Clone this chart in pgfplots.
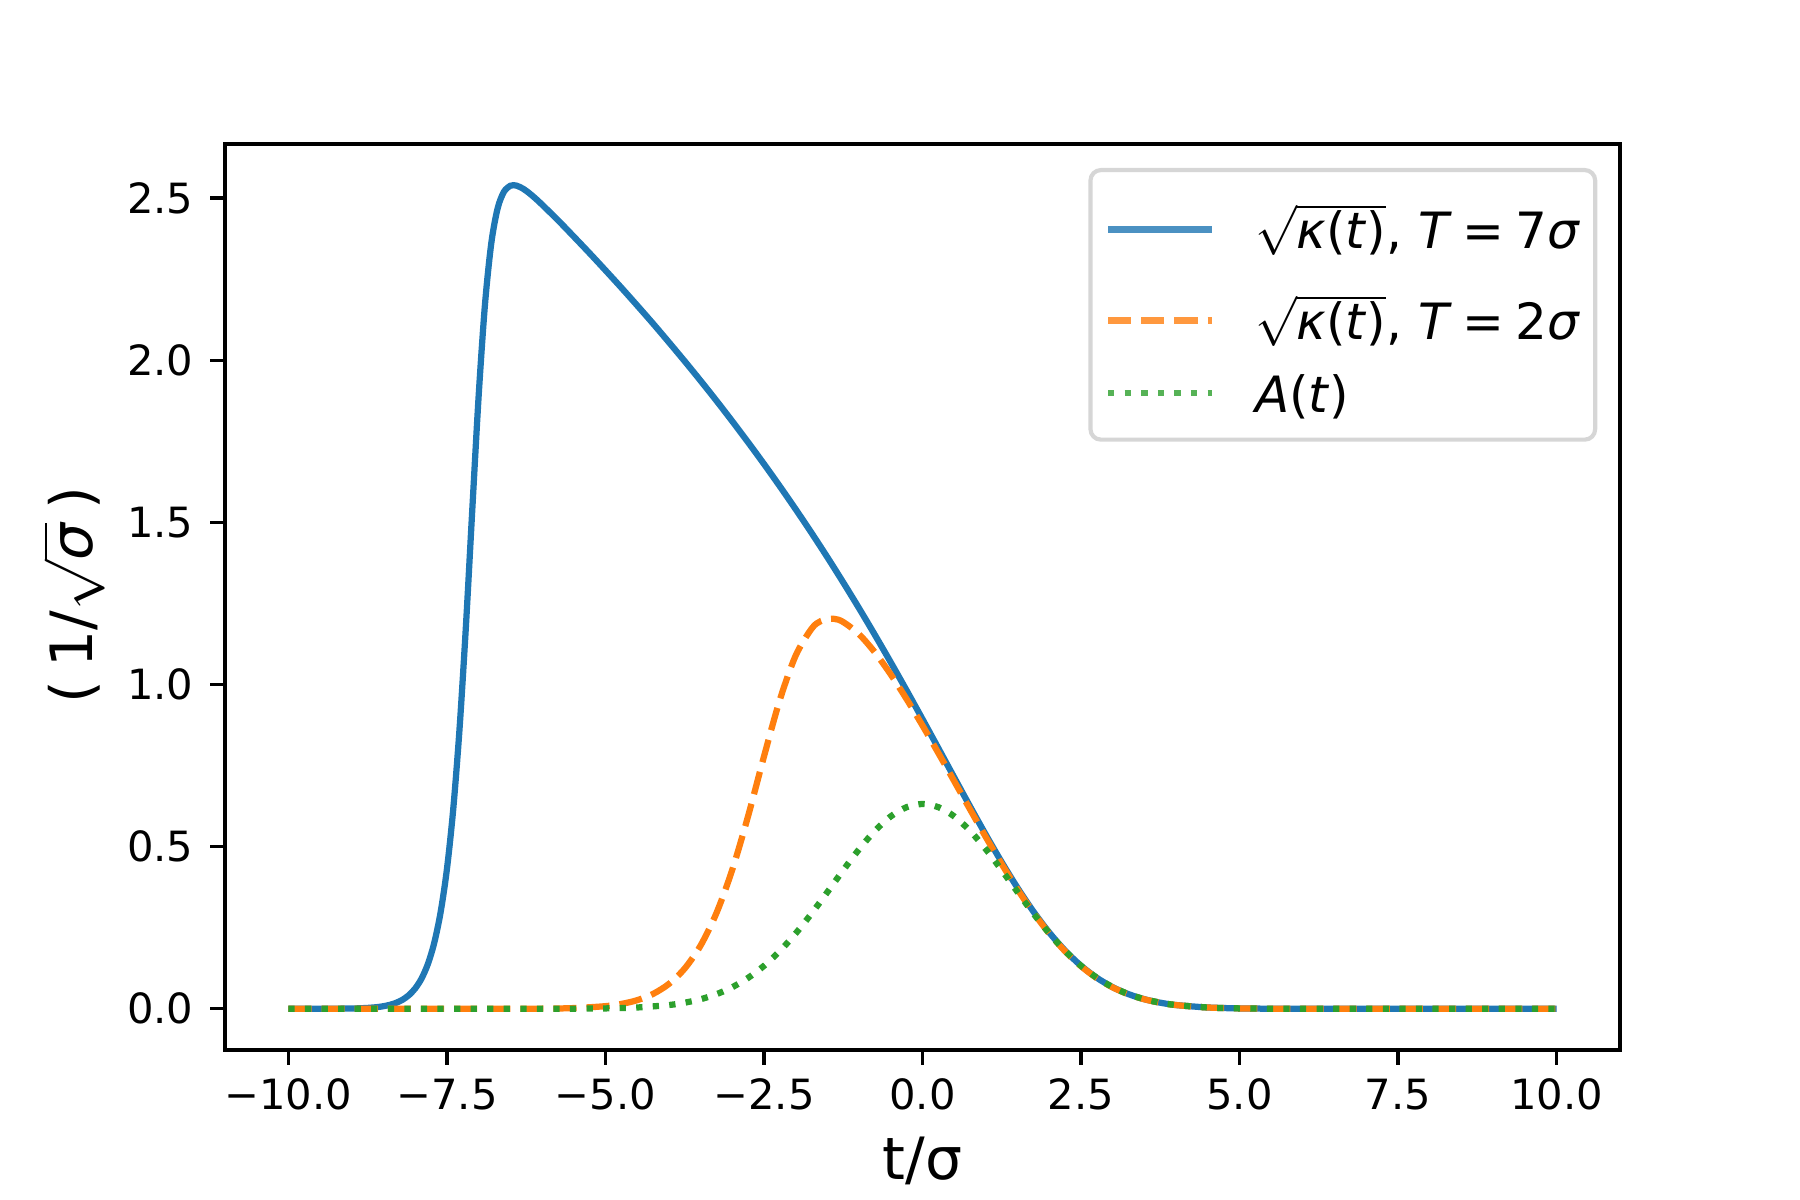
\documentclass[border=0pt]{standalone}
\usepackage{fontspec}
\setmainfont{DejaVu Sans}
\usepackage{pgfplots}
\pgfplotsset{compat=1.18}
\definecolor{tabblue}{HTML}{1F77B4}
\definecolor{taborange}{HTML}{FF7F0E}
\definecolor{tabgreen}{HTML}{2CA02C}
\pgfplotsset{
  limgA/.style={legend image code/.code={\path[draw=none,fill=none] (0pt,-6pt) rectangle (0.01pt,6pt); \draw[##1, line cap=butt] (0pt,-1.55pt) -- (25pt,-1.55pt);}},
  limgB/.style={legend image code/.code={\path[draw=none,fill=none] (0pt,-6pt) rectangle (0.01pt,6pt); \draw[##1, line cap=butt] (0pt,-4.875pt) -- (25pt,-4.875pt);}},
  limgC/.style={legend image code/.code={\path[draw=none,fill=none] (0pt,-6pt) rectangle (0.01pt,6pt); \draw[##1, line cap=butt] (0pt,-2.675pt) -- (25pt,-2.675pt);}},
}

\pgfplotstableread{
t y
-10 0
-9.5 0.0001
-9 0.0009
-8.75 0.0027
-8.6 0.0052
-8.5 0.0080
-8.4 0.0122
-8.3 0.0185
-8.2 0.0279
-8.1 0.0420
-8.0 0.0628
-7.9 0.0934
-7.8 0.1383
-7.7 0.2034
-7.6 0.2973
-7.5 0.4308
-7.4 0.6168
-7.3 0.8667
-7.2 1.1818
-7.1 1.5398
-7.0 1.8891
-6.9 2.1720
-6.8 2.3616
-6.7 2.4688
-6.6 2.5199
-6.5 2.5381
-6.45 2.5399
-6.4 2.5384
-6.3 2.5292
-6.2 2.5150
-6.1 2.4983
-6.0 2.4800
-5.75 2.4321
-5.5 2.3815
-5.25 2.3301
-5.0 2.2774
-4.75 2.2239
-4.5 2.1690
-4.25 2.1132
-4 2.0556
-3.75 1.9970
-3.5 1.9369
-3.25 1.8753
-3 1.8119
-2.75 1.7469
-2.5 1.6801
-2.25 1.6113
-2 1.5405
-1.75 1.4676
-1.5 1.3924
-1.25 1.3148
-1 1.2350
-0.75 1.1527
-0.5 1.0682
-0.25 0.9816
0 0.8932
0.25 0.8036
0.5 0.7136
0.75 0.6240
1 0.5363
1.25 0.4519
1.5 0.3726
1.75 0.2998
2 0.2351
2.25 0.1793
2.5 0.1328
2.75 0.0955
3 0.0666
3.25 0.0451
3.5 0.0295
3.75 0.0188
4 0.0116
4.5 0.0040
5 0.0012
5.5 0.0003
6 0.0001
7 0
8.5 0
10 0
}\kappaseven

\pgfplotstableread{
t y
-10 0
-8 0
-7 0
-6 0.0005
-5.5 0.0022
-5 0.0081
-4.75 0.0149
-4.5 0.0265
-4.25 0.0458
-4 0.0766
-3.75 0.1243
-3.5 0.1949
-3.25 0.2949
-3 0.4288
-2.75 0.5945
-2.5 0.7780
-2.25 0.9526
-2 1.0893
-1.75 1.1720
-1.6 1.1960
-1.4 1.2027
-1.25 1.1927
-1 1.1549
-0.75 1.0989
-0.5 1.0309
-0.25 0.9549
0 0.8736
0.25 0.7888
0.5 0.7021
0.75 0.6150
1 0.5292
1.25 0.4463
1.5 0.3681
1.75 0.2963
2 0.2324
2.25 0.1772
2.5 0.1313
2.75 0.0944
3 0.0659
3.25 0.0446
3.5 0.0292
3.75 0.0186
4 0.0114
4.5 0.0040
5 0.0012
5.5 0.0003
6 0.0001
7 0
8.5 0
10 0
}\kappatwo

\pgfplotstableread{
t y
-10 0
-8.5 0
-7 0
-6 0.0001
-5.5 0.0003
-5 0.0012
-4.5 0.0040
-4 0.0116
-3.75 0.0188
-3.5 0.0295
-3.25 0.0450
-3 0.0666
-2.75 0.0954
-2.5 0.1324
-2.25 0.1782
-2 0.2324
-1.75 0.2937
-1.5 0.3599
-1.25 0.4274
-1 0.4919
-0.75 0.5488
-0.5 0.5934
-0.25 0.6218
0 0.6316
0.25 0.6218
0.5 0.5934
0.75 0.5488
1 0.4919
1.25 0.4274
1.5 0.3599
1.75 0.2937
2 0.2324
2.25 0.1782
2.5 0.1324
2.75 0.0954
3 0.0666
3.25 0.0450
3.5 0.0295
3.75 0.0188
4 0.0116
4.5 0.0040
5 0.0012
5.5 0.0003
6 0.0001
7 0
8.5 0
10 0
}\amplitude

\newcommand{\eqsp}{\hspace{0.22em}=\hspace{0.22em}}
\begin{document}
\begin{tikzpicture}
\path (0,0) rectangle (432pt,288pt);
\begin{axis}[
  at={(54pt,36pt)}, anchor=south west,
  scale only axis, width=334.8pt, height=217.44pt,
  xmin=-11, xmax=11, ymin=-0.127, ymax=2.667,
  axis line style={line width=0.8pt},
  every tick/.style={line width=0.8pt, black},
  major tick length=3.5pt,
  tick align=outside,
  xtick pos=lower, ytick pos=left,
  xtick={-10,-7.5,-5,-2.5,0,2.5,5,7.5,10},
  xticklabels={−10.0,−7.5,−5.0,−2.5,0.0,2.5,5.0,7.5,10.0},
  ytick={0,0.5,1,1.5,2,2.5},
  yticklabels={0.0,0.5,1.0,1.5,2.0,2.5},
  ticklabel style={font=\fontsize{10}{12}\selectfont},
  xticklabel style={anchor=base, inner sep=0pt, yshift=-10.8pt},
  yticklabel style={anchor=east, inner sep=0pt, xshift=-3.9pt},
  every axis x label/.style={at={(rel axis cs:0.5,-0.1435)}, anchor=base, font=\fontsize{14}{17}\selectfont, inner sep=0pt},
  every axis y label/.style={at={(rel axis cs:-0.1085,0.502)}, anchor=center, rotate=90, font=\fontsize{14}{17}\selectfont, inner sep=0pt},
  xlabel={t/σ},
  ylabel={(\hspace{0.22em}1/\(\sqrt{\mbox{\textit{σ}}}\)\hspace{0.22em})},
  legend cell align=left,
  legend style={at={(rel axis cs:0.9837,0.9735)}, anchor=north east,
    draw=white!80!black, line width=1pt, rounded corners=2.5pt,
    fill=white, fill opacity=0.8, text opacity=1, draw opacity=0.8,
    font=\fontsize{12}{14.4}\selectfont,
    inner xsep=3.5pt, inner ysep=5.1pt, row sep=0pt,
    nodes={inner xsep=0pt, inner ysep=0pt},
    /tikz/every odd column/.append style={column sep=9.5pt}},
]
\addplot[tabblue, line width=1.5pt, smooth, limgA] table[x=t, y=y] {\kappaseven};
\addlegendentry{\raisebox{0pt}[13.7pt][0pt]{\(\sqrt{\mbox{\textit{κ}(\textit{t})}}\), \textit{T}\eqsp7\textit{σ}}}
\addplot[taborange, line width=1.5pt, smooth, dash pattern=on 5.55pt off 2.4pt, limgB] table[x=t, y=y] {\kappatwo};
\addlegendentry{\raisebox{0pt}[20.35pt][0pt]{\(\sqrt{\mbox{\textit{κ}(\textit{t})}}\), \textit{T}\eqsp2\textit{σ}}}
\addplot[tabgreen, line width=1.5pt, smooth, dash pattern=on 1.5pt off 2.475pt, limgC] table[x=t, y=y] {\amplitude};
\addlegendentry{\raisebox{0pt}[15.95pt][0pt]{\textit{A}(\textit{t})}}
\end{axis}
\end{tikzpicture}
\end{document}
